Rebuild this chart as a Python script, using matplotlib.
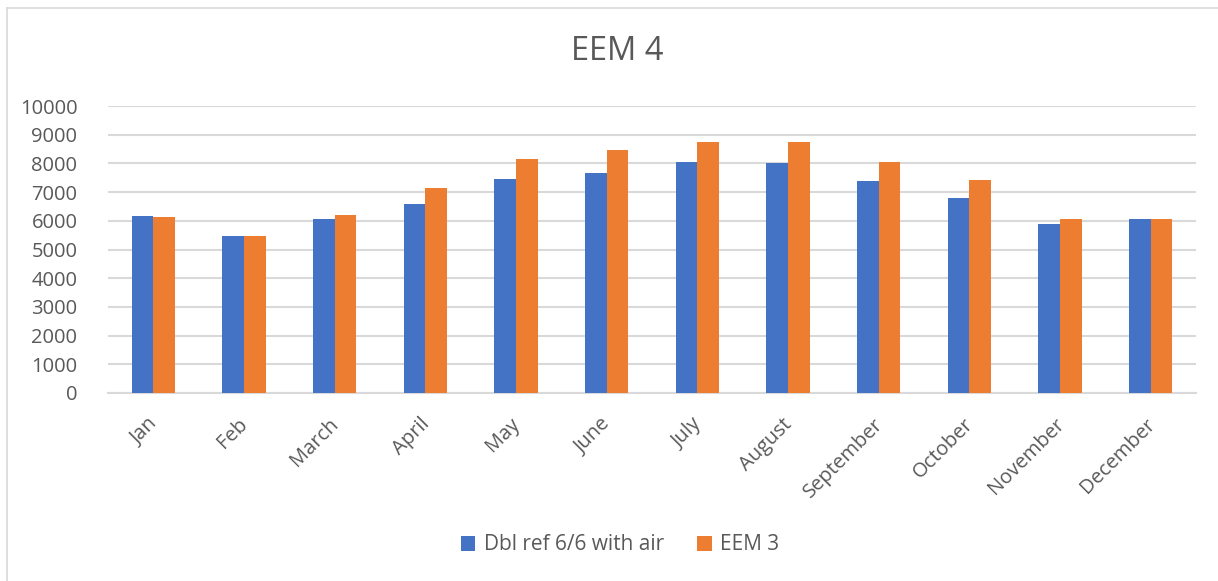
import matplotlib
matplotlib.use("Agg")
import matplotlib.pyplot as plt
import matplotlib.transforms as mtransforms
import numpy as np
from matplotlib.lines import Line2D

months = ["Jan", "Feb", "March", "April", "May", "June", "July", "August",
          "September", "October", "November", "December"]
dbl_ref = [6180, 5470, 6070, 6570, 7440, 7670, 8035, 8010, 7395, 6800, 5900, 6050]
eem3 = [6120, 5460, 6190, 7140, 8160, 8475, 8735, 8735, 8055, 7420, 6070, 6050]
series_names = ["Dbl ref 6/6 with air", "EEM 3"]
yticks = list(range(0, 10001, 1000))

BLUE = "#4472C4"
ORANGE = "#ED7D31"
TEXT = "#595959"
GRID = "#D9D9D9"

plt.rcParams["font.family"] = ["Open Sans", "DejaVu Sans"]

W, H = 1218, 581
fig = plt.figure(figsize=(W / 100, H / 100), dpi=100)

# chart frame: only the top and left edges fall inside the canvas
fig.lines.append(Line2D([7 / W, 1], [1 - 7.5 / H, 1 - 7.5 / H], transform=fig.transFigure,
                        color=GRID, linewidth=1.2))
fig.lines.append(Line2D([7 / W, 7 / W], [0, 1 - 7.5 / H], transform=fig.transFigure,
                        color=GRID, linewidth=1.2))

ax = fig.add_axes([108 / W, 1 - 393 / H, (1196 - 108) / W, (393 - 106) / H])
x = np.arange(len(months))
bw = 0.24
ax.bar(x - bw / 2, dbl_ref, bw, color=BLUE, label=series_names[0], zorder=3)
ax.bar(x + bw / 2, eem3, bw, color=ORANGE, label=series_names[1], zorder=3)

ax.set_xlim(-0.5, len(months) - 0.5)
ax.set_ylim(0, 10000)
ax.set_yticks(yticks)
ax.set_yticklabels([str(v) for v in yticks])
ax.grid(axis="y", color=GRID, linewidth=1.5, zorder=0)
for s in ["top", "right", "left"]:
    ax.spines[s].set_visible(False)
ax.spines["bottom"].set_color(GRID)
ax.spines["bottom"].set_linewidth(1.5)
ax.tick_params(axis="both", length=0, colors=TEXT, labelsize=14.5)
ax.tick_params(axis="y", pad=22)
ax.set_xticks(x)
ax.set_xticklabels(months, rotation=45, ha="right", rotation_mode="anchor")
ax.tick_params(axis="x", pad=14)

# nudge month labels slightly left so they sit under their bar pairs
shift = mtransforms.ScaledTranslation(-6 / 100, -2 / 100, fig.dpi_scale_trans)
for lbl in ax.get_xticklabels():
    lbl.set_transform(lbl.get_transform() + shift)

fig.text(617 / W, 1 - 52 / H, "EEM 4", ha="center", va="center", fontsize=23.5, color=TEXT)

fig.legend(loc="center", bbox_to_anchor=(620 / W, 1 - 545 / H), ncol=2, frameon=False,
           fontsize=15, labelcolor=TEXT, handlelength=0.7, handleheight=0.7,
           columnspacing=1.6, handletextpad=0.4)

fig.savefig("out.png", dpi=100)
